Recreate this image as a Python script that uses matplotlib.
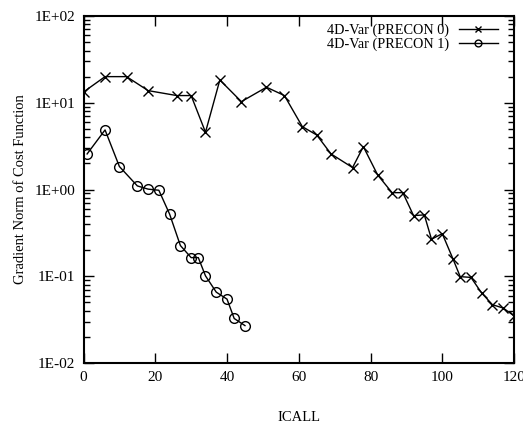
import matplotlib.pyplot as plt
from matplotlib.ticker import FixedLocator, LogLocator, NullFormatter

plt.rcParams['font.family'] = ['Liberation Serif', 'DejaVu Serif']

# 4D-Var (PRECON 0)
icall_p0 = [0, 6, 12, 18, 26, 30, 34, 38, 44, 51, 56, 61, 65, 69, 75, 78, 82,
            86, 89, 92, 95, 97, 100, 103, 105, 108, 111, 114, 117, 120]
grad_p0 = [13.3, 20, 20, 13.8, 12.1, 12.1, 4.57, 18.3, 10.3, 15.1, 12.1, 5.3,
           4.25, 2.57, 1.79, 3.12, 1.47, 0.92, 0.92, 0.50, 0.51, 0.267, 0.31,
           0.158, 0.099, 0.097, 0.064, 0.047, 0.043, 0.035]

# 4D-Var (PRECON 1)
icall_p1 = [1, 6, 10, 15, 18, 21, 24, 27, 30, 32, 34, 37, 40, 42, 45]
grad_p1 = [2.57, 4.86, 1.84, 1.10, 1.01, 0.98, 0.52, 0.226, 0.164, 0.164,
           0.101, 0.0656, 0.0545, 0.0326, 0.027]

yticks = [1e-2, 1e-1, 1e0, 1e1, 1e2]
ytick_labels = ['1E-02', '1E-01', '1E+00', '1E+01', '1E+02']

fig = plt.figure(figsize=(5.23, 4.23), dpi=100)
ax = fig.add_axes([0.1597, 0.1418, 0.8231, 0.8204])

ax.plot(icall_p0, grad_p0, color='black', lw=1, marker='x', ms=7, mew=1,
        label='4D-Var (PRECON 0)')
ax.plot(icall_p1, grad_p1, color='black', lw=1, marker='o', ms=7, mew=1,
        mfc='none', label='4D-Var (PRECON 1)')

ax.set_yscale('log')
ax.set_xlim(0, 120)
ax.set_ylim(1e-2, 1e2)
ax.set_xticks([0, 20, 40, 60, 80, 100, 120])
ax.yaxis.set_major_locator(FixedLocator(yticks))
ax.set_yticklabels(ytick_labels)
ax.yaxis.set_minor_locator(LogLocator(base=10, subs=range(2, 10)))
ax.yaxis.set_minor_formatter(NullFormatter())

ax.tick_params(which='both', direction='in', top=True, right=True,
               labelsize=11, width=1, pad=6)
ax.tick_params(which='major', length=7)
ax.tick_params(which='minor', length=4)
for s in ax.spines.values():
    s.set_linewidth(1.5)

ax.set_xlabel('ICALL', fontsize=10.5, labelpad=19)
ax.set_ylabel('Gradient Norm of Cost Function', fontsize=10.5, labelpad=5)

ax.legend(loc='upper right', bbox_to_anchor=(0.972, 0.99), frameon=False,
          markerfirst=False, fontsize=10.3, markerscale=0.7,
          handlelength=2.7, borderaxespad=0, labelspacing=0.0,
          handletextpad=0.7, borderpad=0.3)

fig.savefig('out.png', dpi=100)
